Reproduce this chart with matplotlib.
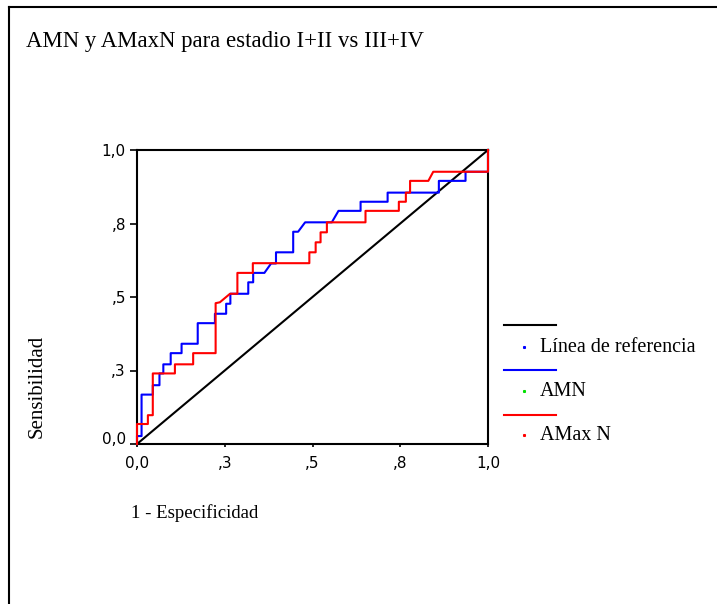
import matplotlib
matplotlib.use('Agg')
import matplotlib.pyplot as plt
from matplotlib.lines import Line2D
from matplotlib.transforms import ScaledTranslation

# ROC curve vertices: x = 1 - especificidad, y = sensibilidad
amn_fpr = [0.0, 0.0, 0.013, 0.013, 0.045, 0.045, 0.064, 0.064, 0.075, 0.075,
           0.096, 0.096, 0.127, 0.127, 0.173, 0.173, 0.222, 0.222, 0.254, 0.254,
           0.266, 0.266, 0.317, 0.317, 0.331, 0.331, 0.363, 0.382, 0.396, 0.396,
           0.445, 0.445, 0.459, 0.479, 0.555, 0.574, 0.637, 0.637, 0.714, 0.714,
           0.860, 0.860, 0.936, 0.936, 1.0, 1.0]
amn_tpr = [0.0, 0.027, 0.027, 0.168, 0.168, 0.200, 0.200, 0.240, 0.240, 0.271,
           0.271, 0.309, 0.309, 0.341, 0.341, 0.411, 0.411, 0.443, 0.443, 0.477,
           0.477, 0.511, 0.511, 0.550, 0.550, 0.582, 0.582, 0.614, 0.614, 0.652,
           0.652, 0.722, 0.722, 0.754, 0.754, 0.793, 0.793, 0.824, 0.824, 0.855,
           0.855, 0.895, 0.895, 0.926, 0.926, 1.0]

amaxn_fpr = [0.0, 0.0, 0.031, 0.031, 0.045, 0.045, 0.108, 0.108, 0.160, 0.160,
             0.224, 0.224, 0.236, 0.265, 0.286, 0.286, 0.330, 0.330, 0.491, 0.491,
             0.509, 0.509, 0.523, 0.523, 0.541, 0.541, 0.651, 0.651, 0.746, 0.746,
             0.766, 0.766, 0.778, 0.778, 0.830, 0.844, 1.0, 1.0]
amaxn_tpr = [0.0, 0.068, 0.068, 0.098, 0.098, 0.240, 0.240, 0.271, 0.271, 0.309,
             0.309, 0.479, 0.482, 0.511, 0.511, 0.582, 0.582, 0.615, 0.615, 0.652,
             0.652, 0.686, 0.686, 0.720, 0.720, 0.754, 0.754, 0.793, 0.793, 0.824,
             0.824, 0.855, 0.855, 0.895, 0.895, 0.926, 0.926, 1.0]

ref_x = [0.0, 1.0]
ref_y = [0.0, 1.0]

tick_values = [0.0, 0.25, 0.5, 0.75, 1.0]
tick_labels = ['0,0', ',3', ',5', ',8', '1,0']

legend_labels = ['Línea de referencia', 'AMN', 'AMax N']
legend_colors = ['black', 'blue', 'red']
marker_colors = ['blue', '#00e000', 'red']

W, H = 717, 604
SERIF = 'Liberation Serif'

fig = plt.figure(figsize=(W / 100, H / 100), dpi=100)
ax = fig.add_axes([137 / W, 1 - 444 / H, 351 / W, 294 / H])

ax.plot(ref_x, ref_y, color='black', lw=1.5, zorder=3, clip_on=False)
ax.plot(amn_fpr, amn_tpr, color='blue', lw=1.5, zorder=3, clip_on=False)
ax.plot(amaxn_fpr, amaxn_tpr, color='red', lw=1.5, zorder=3, clip_on=False)

ax.set_xlim(0, 1)
ax.set_ylim(0, 1)
ax.set_xticks(tick_values)
ax.set_xticklabels(tick_labels)
ax.set_yticks(tick_values)
ax.set_yticklabels(tick_labels)
ax.tick_params(axis='x', length=2.5, width=1.2, pad=6, labelsize=11)
ax.tick_params(axis='y', length=5, width=1.2, pad=3, labelsize=11)
for lab in ax.get_xticklabels() + ax.get_yticklabels():
    lab.set_family('DejaVu Sans')
# lowest y label sits a little above its tick
ax.get_yticklabels()[0].set_transform(
    ax.get_yticklabels()[0].get_transform() + ScaledTranslation(0, 6 / 100, fig.dpi_scale_trans))
for s in ax.spines.values():
    s.set_linewidth(1.5)

fig.text(26 / W, 1 - 47 / H, 'AMN y AMaxN para estadio I+II vs III+IV',
         family=SERIF, fontsize=16.4, va='baseline', ha='left')
fig.text(131 / W, 1 - 513 / H, '1 - Especificidad',
         family=SERIF, fontsize=13.5, va='center', ha='left')
fig.text(37 / W, 1 - 386 / H, 'Sensibilidad', rotation=90,
         family=SERIF, fontsize=15, va='center', ha='center')

# legend: line sample on one row, marker and label on the next
line_rows = [324.7, 370, 415]
text_rows = [347, 391, 435]
for i in range(3):
    fig.add_artist(Line2D([504 / W, 556 / W], [1 - line_rows[i] / H] * 2,
                          color=legend_colors[i], lw=1.5))
    fig.add_artist(Line2D([523.5 / W], [1 - text_rows[i] / H], marker='s',
                          markersize=1.2, color=marker_colors[i], lw=0))
    fig.text(540 / W, 1 - text_rows[i] / H, legend_labels[i],
             family=SERIF, fontsize=14.5, va='center', ha='left')

# outer frame (left and top edges)
fig.add_artist(Line2D([9 / W, 9 / W], [0, 1 - 7 / H], color='black', lw=1.5))
fig.add_artist(Line2D([9 / W, 1], [1 - 7 / H, 1 - 7 / H], color='black', lw=1.5))

fig.savefig('out.png', dpi=100)
